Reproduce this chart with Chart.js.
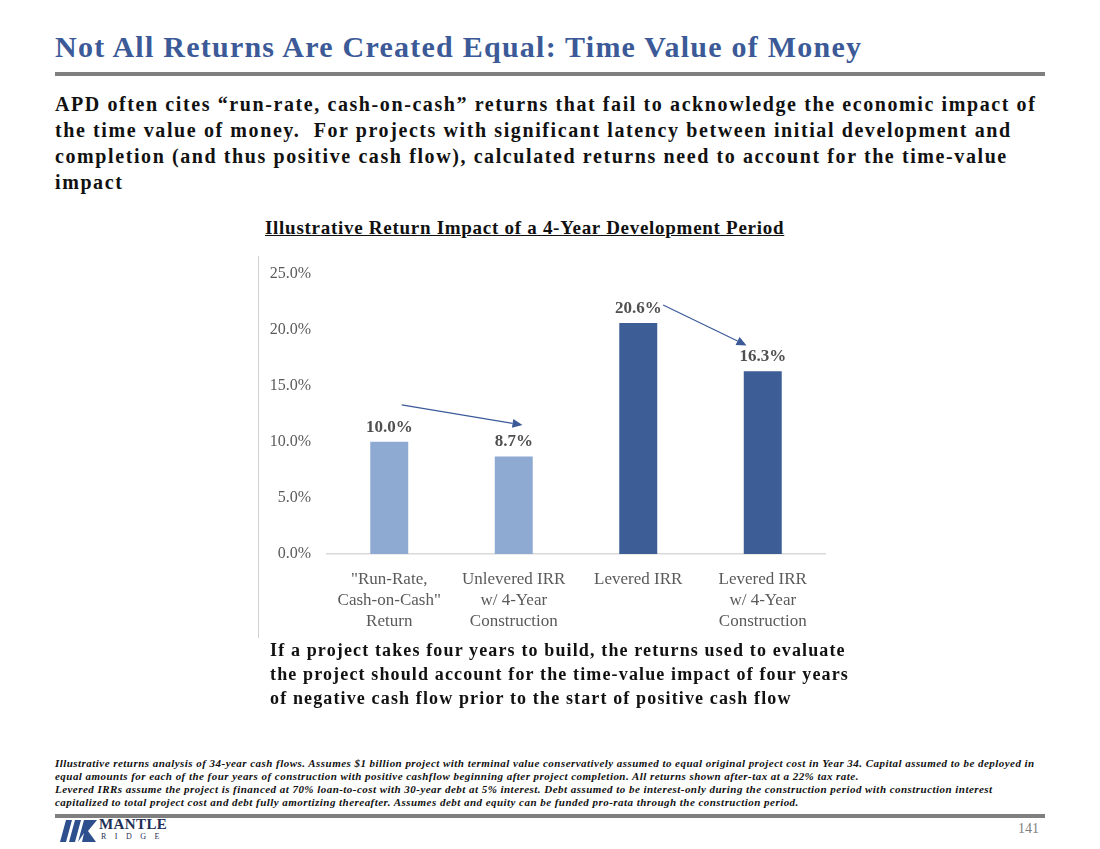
<!DOCTYPE html>
<html>
<head>
<meta charset="utf-8">
<script src="https://cdn.jsdelivr.net/npm/chart.js@4.4.0/dist/chart.umd.min.js"></script>
<style>
  html, body { margin: 0; padding: 0; background: #fff; }
  #page { position: relative; width: 1100px; height: 849px; overflow: hidden; font-family: "Liberation Serif", serif; }
  .abs { position: absolute; white-space: nowrap; }
  #title { left: 55px; top: 30px; font-size: 30px; font-weight: bold; color: #3b5a97; }
  .rule { position: absolute; left: 55px; width: 990px; height: 4px; background: #7f7f7f; }
  #intro { left: 55px; top: 91px; font-size: 20px; font-weight: bold; color: #111; line-height: 26px; }
  #chartTitle { left: 265px; top: 217px; font-size: 19px; font-weight: bold; color: #111; text-decoration: underline; }
  #vline { position: absolute; left: 258px; top: 256px; width: 1px; height: 382px; background: #d0d0d0; }
  #chartBox { position: absolute; left: 258px; top: 248px; width: 580px; height: 392px; }
  #takeaway { left: 270px; top: 638px; font-size: 18px; font-weight: bold; color: #111; line-height: 24px; }
  #notes { left: 55px; top: 757px; font-size: 11px; font-weight: bold; font-style: italic; color: #111; line-height: 13px; }
  #pageNum { left: 1018px; top: 821px; font-size: 14px; color: #7f7f7f; }
  #logoText { left: 99px; top: 816px; font-size: 15px; font-weight: bold; color: #1f2f55; letter-spacing: 0.4px; }
  #logoSub { left: 101px; top: 832px; font-size: 8px; color: #1f2f55; letter-spacing: 8.5px; }
</style>
</head>
<body>
<div id="page">
  <div id="title" class="abs" data-w="807">Not All Returns Are Created Equal: Time Value of Money</div>
  <div class="rule" style="top:72px"></div>
  <div id="intro" class="abs" data-w="981">APD often cites “run-rate, cash-on-cash” returns that fail to acknowledge the economic impact of<br>the time value of money.&nbsp; For projects with significant latency between initial development and<br>completion (and thus positive cash flow), calculated returns need to account for the time-value<br>impact</div>
  <div id="chartTitle" class="abs" data-w="519">Illustrative Return Impact of a 4-Year Development Period</div>
  <div id="vline"></div>
  <div id="chartBox"><canvas id="returnsChart"></canvas></div>
  <div id="takeaway" class="abs" data-w="579">If a project takes four years to build, the returns used to evaluate<br>the project should account for the time-value impact of four years<br>of negative cash flow prior to the start of positive cash flow</div>
  <div id="notes" class="abs" data-w="980">Illustrative returns analysis of 34-year cash flows. Assumes $1 billion project with terminal value conservatively assumed to equal original project cost in Year 34. Capital assumed to be deployed in<br>equal amounts for each of the four years of construction with positive cashflow beginning after project completion. All returns shown after-tax at a 22% tax rate.<br>Levered IRRs assume the project is financed at 70% loan-to-cost with 30-year debt at 5% interest. Debt assumed to be interest-only during the construction period with construction interest<br>capitalized to total project cost and debt fully amortizing thereafter. Assumes debt and equity can be funded pro-rata through the construction period.</div>
  <div class="rule" style="top:814px"></div>
  <svg class="abs" style="left:60px; top:820px" width="38" height="22" viewBox="0 0 38 22">
    <polygon points="6,0 12,0 6,22 0,22" fill="#2d4f8e"/>
    <polygon points="15,0 21,0 15,22 9,22" fill="#2d4f8e"/>
    <polygon points="24,0 37,0 28,11 36,22 22,22 24,13 18,22" fill="#2d4f8e"/>
  </svg>
  <div id="logoText" class="abs">MANTLE</div>
  <div id="logoSub" class="abs">RIDGE</div>
  <div id="pageNum" class="abs">141</div>
</div>

<script>
// chart data
const categories = [
  ['"Run-Rate,', 'Cash-on-Cash"', 'Return'],
  ['Unlevered IRR', 'w/ 4-Year', 'Construction'],
  ['Levered IRR'],
  ['Levered IRR', 'w/ 4-Year', 'Construction']
];
const returns = [10.0, 8.7, 20.6, 16.3];
const barColors = ['#8eaad3', '#8eaad3', '#3d5d96', '#3d5d96'];
const yTickValues = [0, 5, 10, 15, 20, 25];

// arrows drawn between bars, in [category index, value %]
const arrowStarts = [[0.10, 13.3], [2.20, 22.2]];
const arrowEnds = [[1.07, 11.5], [2.87, 18.6]];

const serif = '"Liberation Serif", serif';

// stretch the slide text a little so each block spans the same width as the original
document.querySelectorAll('[data-w]').forEach(el => {
  const target = +el.dataset.w;
  const lines = el.innerHTML.split('<br>');
  let widest = 0, widestLen = 1;
  lines.forEach(l => {
    const probe = document.createElement('span');
    probe.className = 'abs';
    probe.style.font = getComputedStyle(el).font;
    probe.innerHTML = l;
    document.body.appendChild(probe);
    if (probe.offsetWidth > widest) { widest = probe.offsetWidth; widestLen = probe.textContent.length; }
    probe.remove();
  });
  el.style.letterSpacing = ((target - widest) / widestLen) + 'px';
});

// value labels above each bar
const barLabels = {
  id: 'barLabels',
  afterDatasetsDraw(chart) {
    const ctx = chart.ctx;
    const meta = chart.getDatasetMeta(0);
    ctx.save();
    ctx.font = 'bold 17px ' + serif;
    ctx.fillStyle = '#505050';
    ctx.textAlign = 'center';
    ctx.textBaseline = 'bottom';
    meta.data.forEach((bar, i) => {
      ctx.fillText(returns[i].toFixed(1) + '%', bar.x, bar.y - 6);
    });
    ctx.restore();
  }
};

// the two "impact" arrows
const impactArrows = {
  id: 'impactArrows',
  afterDatasetsDraw(chart) {
    const { ctx, scales: { x, y } } = chart;
    ctx.save();
    ctx.strokeStyle = '#3b5a97';
    ctx.fillStyle = '#3b5a97';
    ctx.lineWidth = 1.2;
    arrowStarts.forEach((s, i) => {
      const e = arrowEnds[i];
      const x1 = x.getPixelForValue(s[0]), y1 = y.getPixelForValue(s[1]);
      const x2 = x.getPixelForValue(e[0]), y2 = y.getPixelForValue(e[1]);
      const ang = Math.atan2(y2 - y1, x2 - x1);
      const head = 10, half = 4.5;
      const bx = x2 - head * Math.cos(ang), by = y2 - head * Math.sin(ang);
      ctx.beginPath();
      ctx.moveTo(x1, y1);
      ctx.lineTo(bx, by);
      ctx.stroke();
      ctx.beginPath();
      ctx.moveTo(x2, y2);
      ctx.lineTo(bx + half * Math.sin(ang), by - half * Math.cos(ang));
      ctx.lineTo(bx - half * Math.sin(ang), by + half * Math.cos(ang));
      ctx.closePath();
      ctx.fill();
    });
    ctx.restore();
  }
};

new Chart(document.getElementById('returnsChart'), {
  type: 'bar',
  data: {
    labels: categories,
    datasets: [{
      data: returns,
      backgroundColor: barColors,
      borderWidth: 0,
      categoryPercentage: 1,
      barPercentage: 0.305
    }]
  },
  options: {
    responsive: true,
    maintainAspectRatio: false,
    animation: false,
    layout: { padding: { top: 14, right: 13, left: 0, bottom: 0 } },
    plugins: { legend: { display: false }, tooltip: { enabled: false } },
    scales: {
      x: {
        grid: { display: false, drawTicks: false },
        border: { display: true, color: '#d9d9d9', width: 1.5 },
        ticks: {
          color: '#5a5a5a',
          padding: 15,
          maxRotation: 0,
          autoSkip: false,
          font: { family: serif, size: 17, lineHeight: 1.24 }
        },
        afterFit(scale) { scale.height = 86; }
      },
      y: {
        min: 0,
        max: 25,
        grid: { display: false, drawTicks: false },
        border: { display: false },
        afterBuildTicks(scale) { scale.ticks = yTickValues.map(v => ({ value: v })); },
        ticks: {
          color: '#5a5a5a',
          padding: 16,
          font: { family: serif, size: 16 },
          callback: v => v.toFixed(1) + '%'
        },
        afterFit(scale) { scale.width = 69; }
      }
    }
  },
  plugins: [barLabels, impactArrows]
});
</script>
</body>
</html>
